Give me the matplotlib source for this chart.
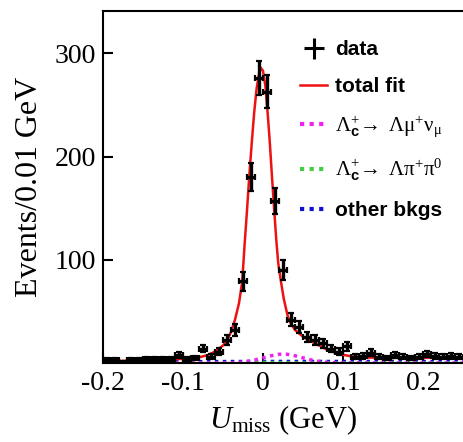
import matplotlib.pyplot as plt
import numpy as np
from matplotlib.lines import Line2D

plt.rcParams['font.family'] = 'Liberation Serif'
plt.rcParams['mathtext.fontset'] = 'custom'
plt.rcParams['mathtext.rm'] = 'Liberation Serif'
plt.rcParams['mathtext.it'] = 'Liberation Serif:italic'
plt.rcParams['mathtext.bf'] = 'Liberation Serif:bold'
plt.rcParams['mathtext.sf'] = 'Liberation Sans:bold'

# veri: 0.01 GeV genişliğinde binler
bin_merkez = np.round(np.arange(-0.195, 0.25, 0.01), 3)
olay = np.array([3, 3, 1, 3, 3, 4, 4, 4, 4, 8,
                 4, 5, 14, 6, 11, 22, 32, 79, 180, 276,
                 263, 157, 90, 42, 35, 25, 22, 19, 14, 11,
                 16, 6, 7, 10, 6, 5, 8, 6, 5, 6,
                 9, 7, 6, 7, 6])
hata = np.sqrt(olay)

# toplam fit eğrisi
fit_x = [-0.20, -0.18, -0.16, -0.14, -0.12, -0.10, -0.09, -0.08, -0.07, -0.06,
         -0.05, -0.045, -0.04, -0.035, -0.03, -0.026, -0.023, -0.02, -0.017, -0.014,
         -0.011, -0.008, -0.005, -0.0027, 0.0, 0.003, 0.006, 0.0083, 0.011, 0.014,
         0.0166, 0.019, 0.0224, 0.026, 0.031, 0.035, 0.04, 0.05, 0.06, 0.07,
         0.08, 0.09, 0.10, 0.11, 0.12, 0.15, 0.20, 0.25]
fit_y = [2.5, 2.0, 2.5, 3.0, 3.5, 4.0, 4.5, 5.5, 7.5, 11,
         17, 22, 30, 42, 58, 79, 115, 148, 183, 214,
         243, 266, 280, 286, 283, 268, 240, 216, 183, 148,
         119, 97, 79, 62, 45, 38, 32, 25.5, 21, 17,
         13, 10, 8, 6.5, 5.5, 5, 5, 5]

# Λc+ → Λμ+νμ bileşeni
mu_x = [-0.20, -0.04, -0.03, -0.02, -0.01, 0.0, 0.01, 0.02, 0.03, 0.04,
        0.05, 0.06, 0.07, 0.08, 0.10, 0.25]
mu_y = [0, 0, 0.5, 1.5, 3, 5, 7, 8.5, 8.5, 7,
        5, 3, 1.5, 0.5, 0, 0]

# Λc+ → Λπ+π0 bileşeni
pi_x = [-0.20, -0.05, -0.02, 0.0, 0.02, 0.05, 0.25]
pi_y = [0, 0, 0.3, 0.5, 0.3, 0, 0]

# diğer arka planlar
bkg_x = [-0.20, -0.10, 0.0, 0.10, 0.20, 0.25]
bkg_y = [1.2, 1.3, 1.5, 1.5, 1.4, 1.4]

fig = plt.figure(figsize=(4.64, 4.42), dpi=100)
ax = fig.add_axes([0.222, 0.1787, 0.7759, 0.7964])

nokta = (0, (1, 1.3))
ax.plot(bkg_x, bkg_y, color='#1010d0', lw=2.5, ls=nokta)
ax.plot(pi_x, pi_y, color='#44cc44', lw=2.5, ls=nokta)
ax.plot(mu_x, mu_y, color='#ee22ee', lw=2.5, ls=nokta)
ax.plot(fit_x, fit_y, color='#ee1111', lw=1.8)
ax.errorbar(bin_merkez, olay, yerr=hata, xerr=0.005, fmt='none',
            ecolor='black', elinewidth=2.4, capsize=2, capthick=1.6)

ax.set_xlim(-0.2, 0.25)
ax.set_ylim(0, 341)
ax.set_xticks([-0.2, -0.1, 0, 0.1, 0.2])
ax.set_xticklabels(['-0.2', '-0.1', '0', '0.1', '0.2'])
ax.set_yticks([100, 200, 300])
ax.tick_params(direction='in', length=7, width=1.5, labelsize=20, pad=5)
ax.tick_params(axis='x', pad=6)
for s in ['left', 'bottom', 'top']:
    ax.spines[s].set_linewidth(1.5)
ax.spines['right'].set_visible(False)

ax.set_ylabel('Events/0.01 GeV', fontsize=23, labelpad=8)
ax.set_xlabel(r'$U_{\rm miss}$ (GeV)', fontsize=22, labelpad=5)

# lejant
kutu = ax.errorbar([], [], yerr=[], xerr=[], fmt='none', ecolor='black', elinewidth=2.2)
tutamaklar = [
    kutu,
    Line2D([], [], color='#ee1111', lw=1.8),
    Line2D([], [], color='#ee22ee', lw=3, ls=nokta),
    Line2D([], [], color='#44cc44', lw=3, ls=nokta),
    Line2D([], [], color='#1010d0', lw=3, ls=nokta),
]
etiketler = ['data', 'total fit',
             r'$\mathrm{\Lambda}_{\mathsf{c}}^{+}\!\rightarrow\ \mathrm{\Lambda\mu^{+}\nu_{\mu}}$',
             r'$\mathrm{\Lambda}_{\mathsf{c}}^{+}\!\rightarrow\ \mathrm{\Lambda\pi^{+}\pi^{0}}$',
             'other bkgs']
ax.legend(tutamaklar, etiketler, loc='upper left',
          bbox_to_anchor=(290 / 464, 1 - 30 / 442), bbox_transform=fig.transFigure,
          frameon=False, borderpad=0, handlelength=1.3, handletextpad=0.35,
          labelspacing=0.85, prop={'family': 'Liberation Sans', 'weight': 'bold', 'size': 15})

fig.savefig('out.png', dpi=100)
